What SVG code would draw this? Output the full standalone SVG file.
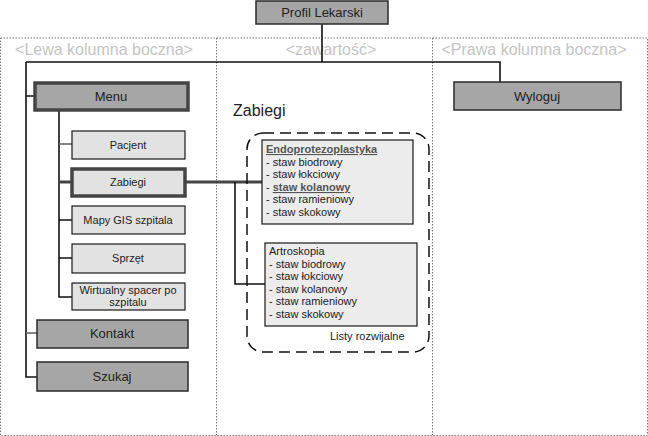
<svg xmlns="http://www.w3.org/2000/svg" width="648" height="436" viewBox="0 0 648 436">
<style>
text{font-family:"Liberation Sans",Arial,sans-serif;fill:#222}
.hdr{font-size:16px;fill:#c4c4c4;text-anchor:middle}
.dark{fill:#a6a6a6;stroke:#2a2a2a;stroke-width:1.5}
.thick{fill:#a6a6a6;stroke:#444;stroke-width:3.5}
.sub{fill:#e2e2e2;stroke:#1a1a1a;stroke-width:1.2}
.subthick{fill:#e2e2e2;stroke:#444;stroke-width:3.5}
.list{fill:#ececec;stroke:#1a1a1a;stroke-width:1.2}
.c13{font-size:13px;text-anchor:middle}
.c11{font-size:11px;text-anchor:middle}
.l11{font-size:11px}
.frame{fill:none;stroke:#777;stroke-width:1;stroke-dasharray:1.5 1.5}
.conn{fill:none;stroke:#111;stroke-width:1.6}
.conng{fill:none;stroke:#666;stroke-width:1.6}
.connt{fill:none;stroke:#444;stroke-width:3}
</style>
<rect width="648" height="436" fill="#fff"/>
<g id="frame">
<path class="frame" d="M0.5 38 H647.5 V435.5 H0.5 Z M216.5 38 V435.5 M432.5 38 V435.5"/>
<text class="hdr" x="104" y="55">&lt;Lewa kolumna boczna&gt;</text>
<text class="hdr" x="331" y="55">&lt;zawartość&gt;</text>
<text class="hdr" x="534" y="55">&lt;Prawa kolumna boczna&gt;</text>
</g>
<g id="connectors">
<path class="conn" d="M322 24 V62 M26 62 H500 V82 M26 62 V377 H37 M26 96 H34"/>
<path class="conng" d="M26 333 H37"/>
<path class="conn" d="M59 111 V297 H72 M59 220 H72 M59 258 H72"/>
<path class="conng" d="M59 144 H72"/>
<path class="connt" d="M58 182 H71 M186 182 H262"/>
<path class="conn" d="M235 182 V284 H265"/>
</g>
<g id="profil">
<rect class="dark" x="256" y="1" width="132" height="23"/>
<text class="c13" x="322" y="17">Profil Lekarski</text>
</g>
<g id="menu">
<rect class="thick" x="35" y="83" width="153" height="27"/>
<text class="c13" x="111" y="101">Menu</text>
</g>
<g id="pacjent">
<rect class="sub" x="72" y="131" width="113" height="28"/>
<text class="c11" x="128" y="149">Pacjent</text>
</g>
<g id="zabiegi">
<rect class="subthick" x="72" y="169" width="113" height="27"/>
<text class="c11" x="128" y="186">Zabiegi</text>
</g>
<g id="mapy">
<rect class="sub" x="72" y="206" width="113" height="28"/>
<text class="c11" x="128" y="224">Mapy GIS szpitala</text>
</g>
<g id="sprzet">
<rect class="sub" x="72" y="244" width="113" height="29"/>
<text class="c11" x="128" y="262">Sprzęt</text>
</g>
<g id="wirtualny">
<rect class="sub" x="72" y="283" width="113" height="27"/>
<text class="c11" x="128" y="294">Wirtualny spacer po</text>
<text class="c11" x="128" y="306">szpitalu</text>
</g>
<g id="kontakt">
<rect class="dark" x="37" y="320" width="151" height="28"/>
<text class="c13" x="112" y="338">Kontakt</text>
</g>
<g id="szukaj">
<rect class="dark" x="37" y="362" width="151" height="29"/>
<text class="c13" x="112" y="381">Szukaj</text>
</g>
<g id="wyloguj">
<rect class="dark" x="454" y="82" width="167" height="28"/>
<text class="c13" x="537" y="101">Wyloguj</text>
</g>
<g id="zabiegi-content">
<text x="233" y="116" style="font-size:16px">Zabiegi</text>
<rect x="247" y="133" width="182" height="219" rx="16" fill="none" stroke="#111" stroke-width="1.5" stroke-dasharray="11 6"/>
<text class="l11" x="330" y="340">Listy rozwijalne</text>
</g>
<g id="endo">
<rect class="list" x="262" y="140" width="151" height="84"/>
<text class="l11" x="266" y="153" style="font-weight:bold;fill:#555;text-decoration:underline">Endoprotezoplastyka</text>
<text class="l11" x="266" y="166">- staw biodrowy</text>
<text class="l11" x="266" y="178">- staw łokciowy</text>
<text class="l11" x="266" y="191">- <tspan style="font-weight:bold;fill:#555;text-decoration:underline">staw kolanowy</tspan></text>
<text class="l11" x="266" y="203">- staw ramieniowy</text>
<text class="l11" x="266" y="216">- staw skokowy</text>
</g>
<g id="artro">
<rect class="list" x="265" y="243" width="152" height="83"/>
<text class="l11" x="269" y="255">Artroskopia</text>
<text class="l11" x="269" y="268">- staw biodrowy</text>
<text class="l11" x="269" y="280">- staw łokciowy</text>
<text class="l11" x="269" y="293">- staw kolanowy</text>
<text class="l11" x="269" y="305">- staw ramieniowy</text>
<text class="l11" x="269" y="318">- staw skokowy</text>
</g>
</svg>
